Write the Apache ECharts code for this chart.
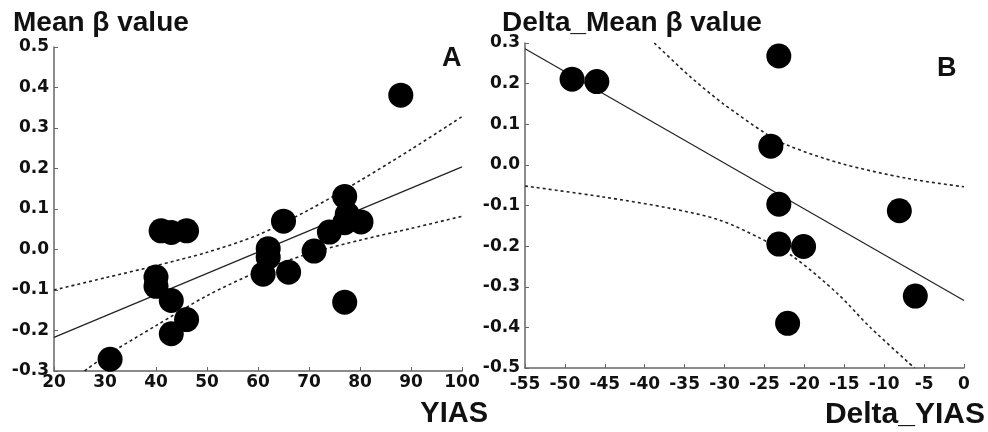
<!DOCTYPE html>
<html lang="en">
<head>
	<meta charset="utf-8">
	<title>Mean beta value vs YIAS</title>
	<script src="https://cdn.jsdelivr.net/npm/echarts@6/dist/echarts.min.js"></script>
	<style>
		html, body { margin: 0; padding: 0; background: #fff; }
		#chart { width: 988px; height: 432px; }
	</style>
</head>
<body>
<div id="chart"></div>
<script>
// panel A: YIAS vs mean beta value
var pointsA = [
	[88, 0.381], [77, 0.131], [77.5, 0.087], [77, 0.066], [80.2, 0.068],
	[74, 0.043], [71, -0.004], [65, 0.070], [66, -0.056], [62, 0.002],
	[62, -0.019], [61, -0.061], [41, 0.046], [43, 0.042], [46, 0.046],
	[40, -0.068], [40, -0.091], [43, -0.126], [46, -0.173], [43, -0.208],
	[31, -0.271], [77, -0.130]
];
var fitA = [[20, -0.217], [100, 0.204]];
var upperA = [[20, -0.100], [30, -0.070], [40, -0.040], [50, -0.007], [60, 0.036],
	[70, 0.098], [80, 0.170], [90, 0.247], [100, 0.328]];
var lowerA = [[26, -0.300], [30, -0.264], [40, -0.188], [50, -0.114], [60, -0.055],
	[70, -0.010], [80, 0.023], [90, 0.052], [100, 0.082]];

// panel B: Delta_YIAS vs delta mean beta value
var pointsB = [
	[-49.1, 0.211], [-46, 0.205], [-23.2, 0.268], [-24.2, 0.046], [-23.2, -0.097],
	[-8.1, -0.113], [-23.2, -0.195], [-20.1, -0.201], [-6.1, -0.323], [-22.1, -0.390]
];
var fitB = [[-55, 0.286], [0, -0.334]];
var upperB = [[-38.8, 0.300], [-34.3, 0.217], [-30.2, 0.151], [-24.9, 0.078], [-22.2, 0.049],
	[-15.5, 0.004], [-7.2, -0.033], [0, -0.054]];
var lowerB = [[-55, -0.052], [-45.2, -0.079], [-36.8, -0.107], [-30.6, -0.136], [-25.5, -0.181],
	[-21.4, -0.226], [-15.9, -0.316], [-11.8, -0.399], [-6.2, -0.500]];

var ticksA = { xMin: 20, xMax: 100, xStep: 10, yMin: -0.3, yMax: 0.5, yStep: 0.1 };
var ticksB = { xMin: -55, xMax: 0, xStep: 5, yMin: -0.5, yMax: 0.3, yStep: 0.1 };

var tickFont = { fontFamily: 'DejaVu Sans', fontWeight: 'bold', fontSize: 17, color: '#111' };
function bold(size) {
	return { fontFamily: 'Liberation Sans', fontWeight: 'bold', fontSize: size, color: '#111' };
}

function xAxisOf(t, idx, margin) {
	return {
		type: 'value', gridIndex: idx, min: t.xMin, max: t.xMax, interval: t.xStep,
		axisLine: { onZero: false, lineStyle: { color: '#666', width: 1.5 } },
		axisTick: { inside: true, length: 4, lineStyle: { color: '#666' } },
		axisLabel: Object.assign({ margin: margin }, tickFont),
		splitLine: { show: false }
	};
}
function yAxisOf(t, idx) {
	return {
		type: 'value', gridIndex: idx, min: t.yMin, max: t.yMax, interval: t.yStep,
		axisLine: { show: true, onZero: false, lineStyle: { color: '#666', width: 1.5 } },
		axisTick: { show: true, inside: true, length: 4, lineStyle: { color: '#666' } },
		axisLabel: Object.assign({ margin: 5, formatter: function (v) { return v.toFixed(1); } }, tickFont),
		splitLine: { show: false }
	};
}
function lineOf(data, idx, dashed) {
	return {
		type: 'line', xAxisIndex: idx, yAxisIndex: idx, data: data, symbol: 'none',
		smooth: dashed ? 0.3 : false, z: 2, silent: true,
		lineStyle: { color: '#222', width: dashed ? 1.6 : 1.2, type: dashed ? [3, 3] : 'solid' }
	};
}
function dotsOf(data, idx) {
	return {
		type: 'scatter', xAxisIndex: idx, yAxisIndex: idx, data: data,
		symbolSize: 25, z: 3, itemStyle: { color: '#000', opacity: 1 }
	};
}

var chart = echarts.init(document.getElementById('chart'));
chart.setOption({
	animation: false,
	backgroundColor: '#fff',
	title: [
		{ text: 'Mean β value', left: 13, top: 9, padding: 0, textStyle: bold(28) },
		{ text: 'A', left: 442, top: 45, padding: 0, textStyle: bold(27) },
		{ text: 'YIAS', right: 500, top: 399, padding: 0, textStyle: bold(29) },
		{ text: 'Delta_Mean β value', left: 502, top: 9, padding: 0, textStyle: bold(28) },
		{ text: 'B', left: 937, top: 55, padding: 0, textStyle: bold(27) },
		{ text: 'Delta_YIAS', right: 3, top: 400, padding: 0, textStyle: bold(30) }
	],
	grid: [
		{ left: 54, top: 47, width: 408, height: 324 },
		{ left: 525, top: 43, width: 439, height: 325 }
	],
	xAxis: [xAxisOf(ticksA, 0, 3), xAxisOf(ticksB, 1, 8)],
	yAxis: [yAxisOf(ticksA, 0), yAxisOf(ticksB, 1)],
	series: [
		lineOf(fitA, 0, false), lineOf(upperA, 0, true), lineOf(lowerA, 0, true), dotsOf(pointsA, 0),
		lineOf(fitB, 1, false), lineOf(upperB, 1, true), lineOf(lowerB, 1, true), dotsOf(pointsB, 1)
	]
});
</script>
</body>
</html>
